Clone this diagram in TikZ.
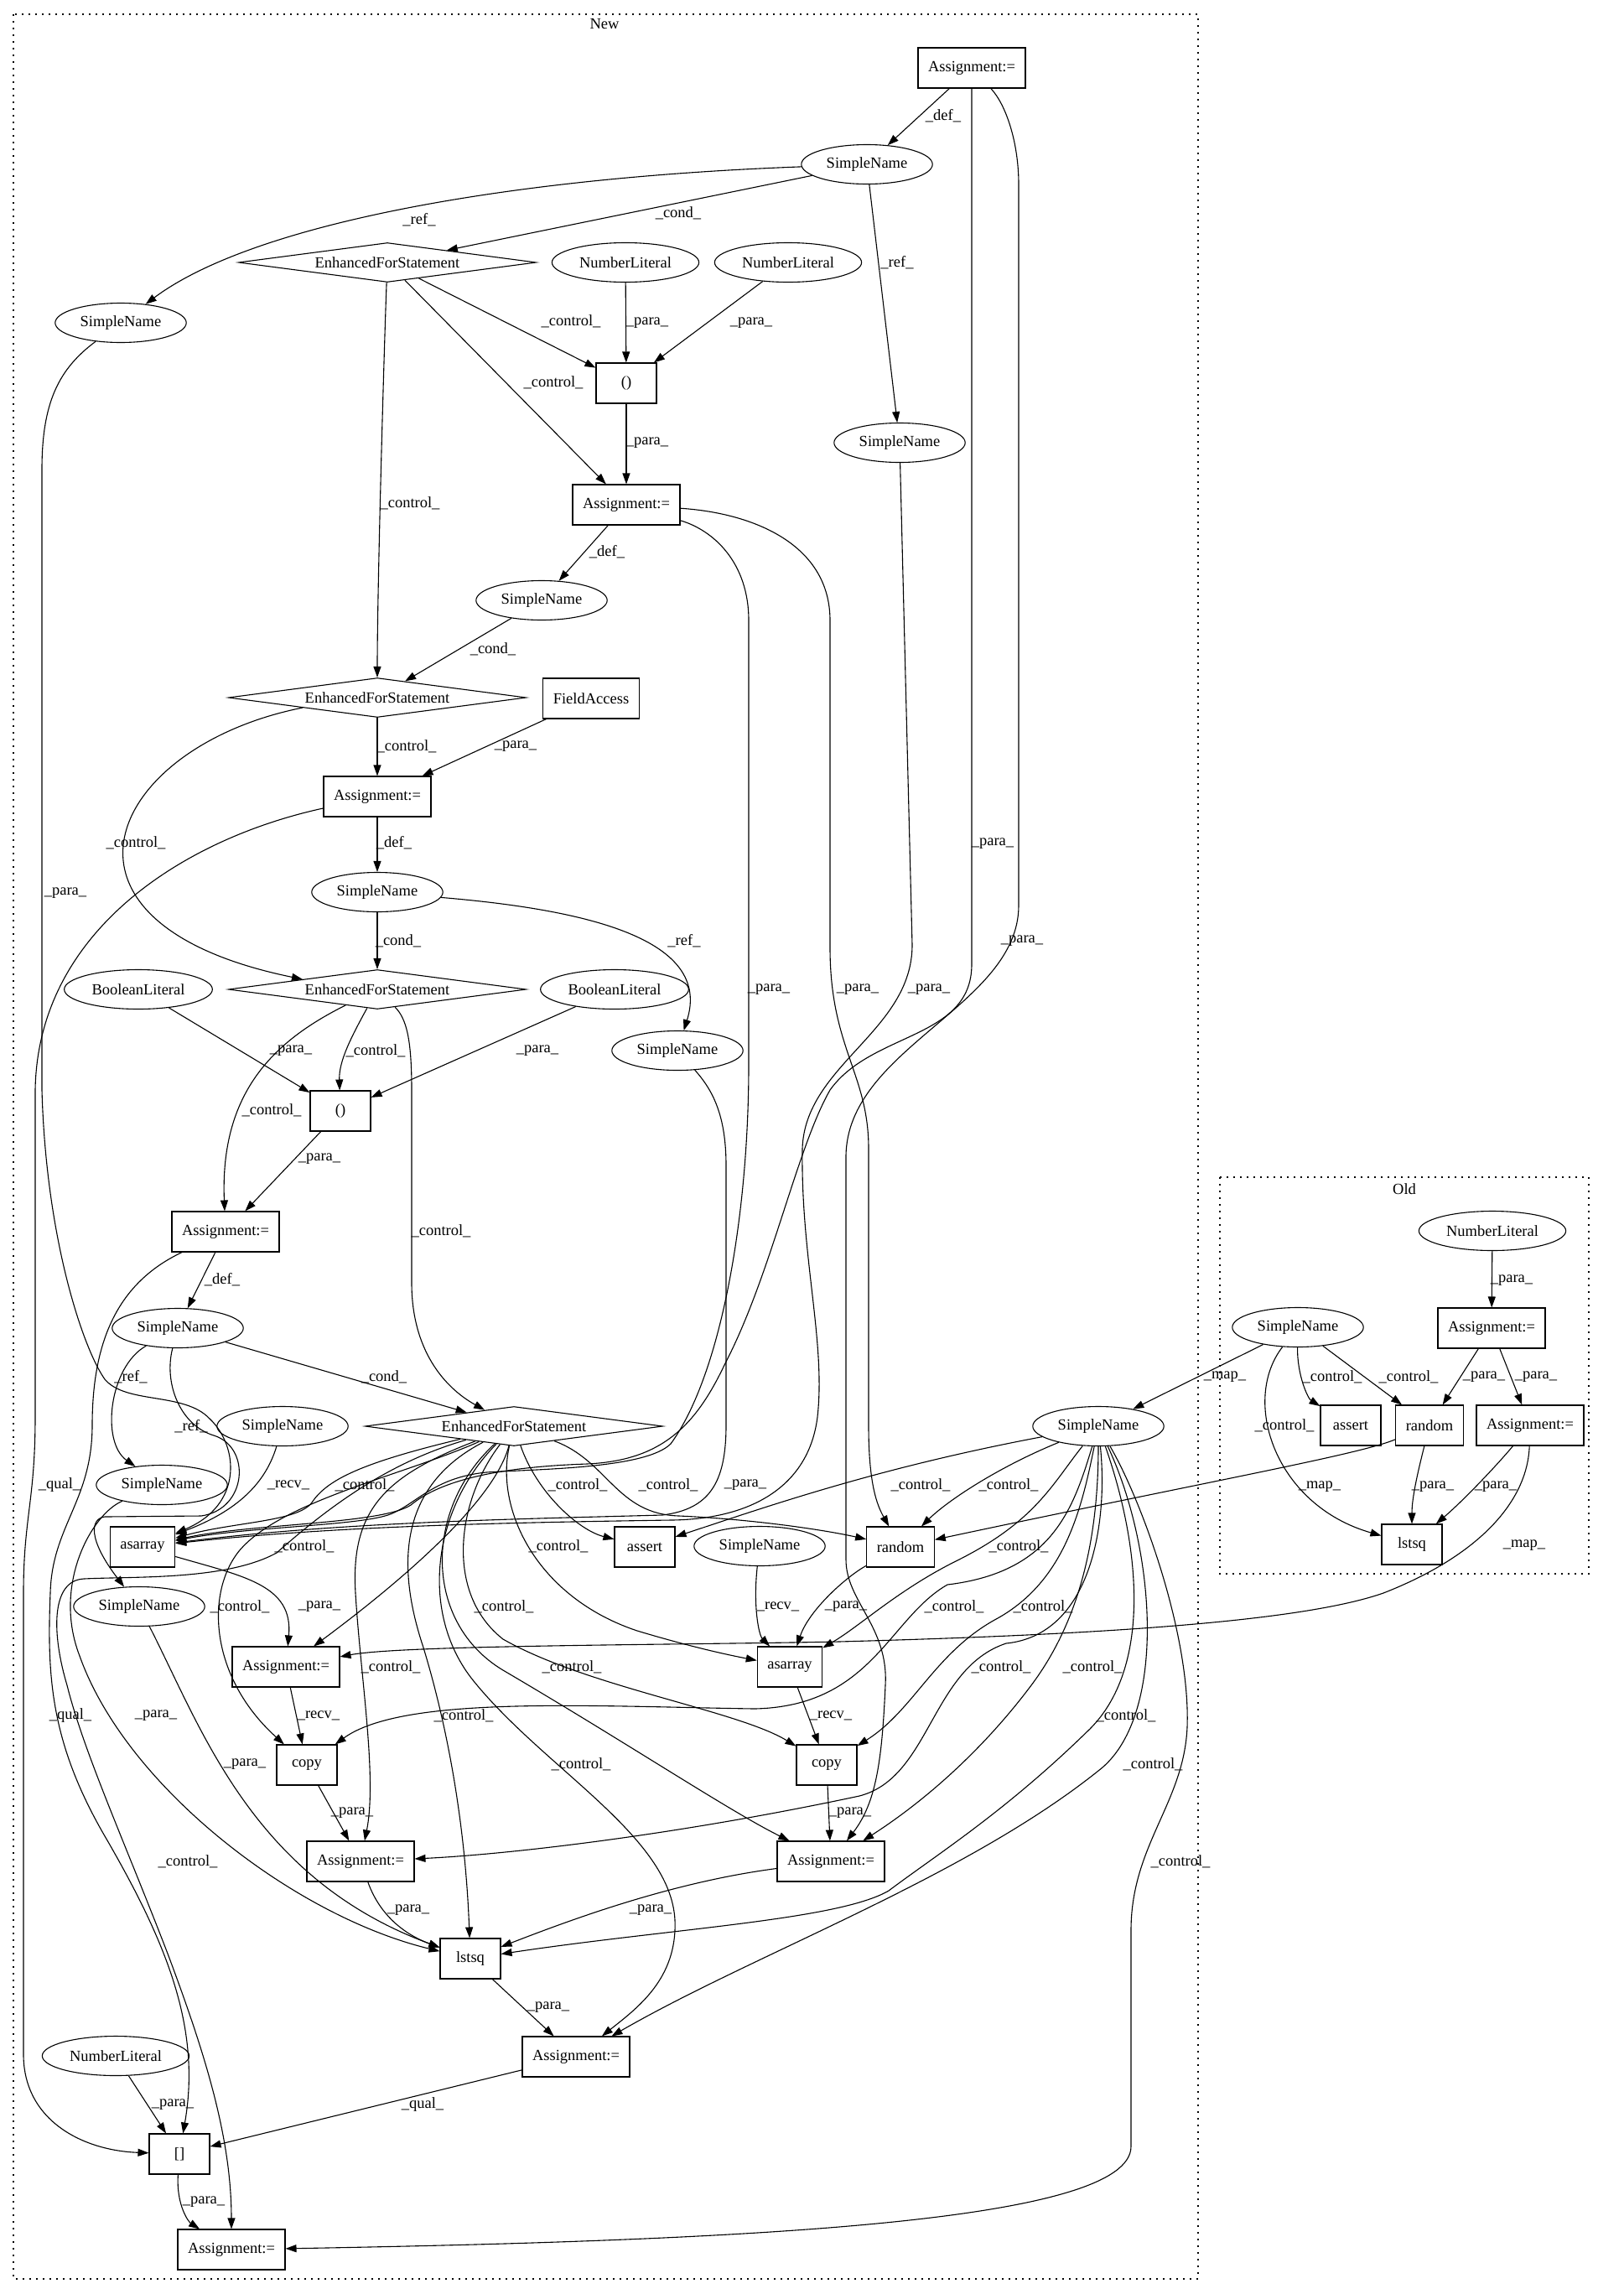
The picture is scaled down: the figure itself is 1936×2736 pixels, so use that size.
\documentclass[tikz,border=0pt]{standalone}
\usepackage{fontspec}
\setmainfont{Liberation Serif}
\usetikzlibrary{shapes.geometric, arrows.meta}
\newcommand{\gvfont}{\fontsize{18.5}{20}\selectfont}
\tikzset{
    stmt/.style={rectangle, draw=black, line width=1.1pt, minimum height=48pt, minimum width=72pt, inner xsep=12pt, font=\gvfont},
    sname/.style={ellipse, draw=black, line width=1.1pt, minimum height=47pt, inner xsep=7pt, font=\gvfont},
    forstmt/.style={diamond, draw=black, line width=1.1pt, aspect=7.5, minimum width=355pt, minimum height=47pt, inner sep=0pt, font=\gvfont},
    flow/.style={line width=1.1pt, -{Triangle[length=13pt, width=9pt]}},
    lbl/.style={font=\gvfont, inner sep=0pt},
    cluster/.style={draw=black, line width=1.3pt, dash pattern=on 2pt off 6pt}
}

\begin{document}
\begin{tikzpicture}[x=1pt, y=-1pt]
    \useasboundingbox (0,0) rectangle (1936,2736);
    \fill[white] (0,0) rectangle (1936,2736);

    \draw[cluster] (16,17) rectangle (1429,2718);
    \draw[cluster] (1455,1404) rectangle (1895,1877);
    \node (newtitle) [lbl] at (721,29) {New};
    \node (oldtitle) [lbl] at (1675,1418) {Old};

    \node (a1) [stmt] at (1159,81) {Assignment:=};
    \node (sn1) [sname] at (1034,196) {SimpleName};
    \node (efs1) [forstmt] at (462,313) {EnhancedForStatement};
    \node (nl1) [sname] at (746,313) {NumberLiteral};
    \node (nl2) [sname] at (940,313) {NumberLiteral};
    \node (snL) [sname] at (144,385) {SimpleName};
    \node (tup1) [stmt] at (747,457) {()};
    \node (snR) [sname] at (1073,528) {SimpleName};
    \node (a2) [stmt] at (747,602) {Assignment:=};
    \node (sn2) [sname] at (646,716) {SimpleName};
    \node (efs2) [forstmt] at (450,832) {EnhancedForStatement};
    \node (fa) [stmt] at (705,833) {FieldAccess};
    \node (a3) [stmt] at (450,950) {Assignment:=};
    \node (sn3) [sname] at (450,1064) {SimpleName};
    \node (efs3) [forstmt] at (450,1180) {EnhancedForStatement};
    \node (bl1) [sname] at (165,1180) {BooleanLiteral};
    \node (bl2) [sname] at (733,1180) {BooleanLiteral};
    \node (sn7) [sname] at (808,1253) {SimpleName};
    \node (tup2) [stmt] at (406,1325) {()};
    \node (a4) [stmt] at (269,1469) {Assignment:=};
    \node (sn4) [sname] at (212,1584) {SimpleName};
    \node (efs4) [forstmt] at (613,1701) {EnhancedForStatement};
    \node (sn5) [sname] at (337,1701) {SimpleName};
    \node (snH) [sname] at (1310,1701) {SimpleName};
    \node (sn6) [sname] at (193,1771) {SimpleName};
    \node (asa1) [stmt] at (170,1845) {asarray};
    \node (ast1) [stmt] at (769,1845) {assert};
    \node (sn9) [sname] at (906,1844) {SimpleName};
    \node (rnd1) [stmt] at (1074,1845) {random};
    \node (sn8) [sname] at (166,1916) {SimpleName};
    \node (a5) [stmt] at (341,1988) {Assignment:=};
    \node (asa2) [stmt] at (942,1988) {asarray};
    \node (cp1) [stmt] at (366,2105) {copy};
    \node (cp2) [stmt] at (986,2105) {copy};
    \node (a6) [stmt] at (430,2220) {Assignment:=};
    \node (a9) [stmt] at (991,2220) {Assignment:=};
    \node (lst) [stmt] at (561,2336) {lstsq};
    \node (a7) [stmt] at (687,2453) {Assignment:=};
    \node (nl3) [sname] at (138,2452) {NumberLiteral};
    \node (br) [stmt] at (214,2569) {[]};
    \node (a8) [stmt] at (276,2683) {Assignment:=};

    \node (onl) [sname] at (1780,1468) {NumberLiteral};
    \node (oa1) [stmt] at (1779,1584) {Assignment:=};
    \node (osn) [sname] at (1548,1583) {SimpleName};
    \node (oast) [stmt] at (1611,1700) {assert};
    \node (ornd) [stmt] at (1705,1700) {random};
    \node (oa2) [stmt] at (1825,1700) {Assignment:=};
    \node (olst) [stmt] at (1684,1842) {lstsq};

    \draw[flow] (a1) -- (sn1) node[lbl] at (1125,138) {\_def\_};
    \draw[flow] (sn1) -- (efs1) node[lbl] at (809,254) {\_cond\_};
    \draw[flow] (sn1) .. controls (600,212) and (300,268) .. (snL) node[lbl] at (500,262) {\_ref\_};
    \draw[flow] (sn1) -- (snR) node[lbl] at (1070,313) {\_ref\_};
    \draw[flow] (efs1) -- (tup1) node[lbl] at (681,383) {\_control\_};
    \draw[flow] (efs1) -- (a2) node[lbl] at (660,456) {\_control\_};
    \draw[flow] (efs1) .. controls (458,420) and (450,700) .. (efs2) node[lbl] at (489,600) {\_control\_};
    \draw[flow] (nl1) -- (tup1) node[lbl] at (772,385) {\_para\_};
    \draw[flow] (nl2) -- (tup1) node[lbl] at (896,385) {\_para\_};
    \draw[flow] (tup1) -- (a2) node[lbl] at (772,528) {\_para\_};
    \draw[flow] (a2) -- (sn2) node[lbl] at (724,658) {\_def\_};
    \draw[flow] (sn2) -- (efs2) node[lbl] at (588,774) {\_cond\_};
    \draw[flow] (efs2) -- (a3) node[lbl] at (485,890) {\_control\_};
    \draw[flow] (fa) -- (a3) node[lbl] at (615,890) {\_para\_};
    \draw[flow] (efs2.south west) .. controls (130,890) and (30,1100) .. (efs3.north west) node[lbl] at (162,1005) {\_control\_};
    \draw[flow] (a3) -- (sn3) node[lbl] at (470,1005) {\_def\_};
    \draw[flow] (a3) .. controls (220,1000) and (45,1110) .. (42,1300) -- (42,1690) .. controls (42,1790) and (28,1810) .. (28,1900) -- (28,2450) .. controls (28,2530) and (100,2565) .. (br) node[lbl] at (71,1771) {\_qual\_};
    \draw[flow] (sn3) -- (efs3) node[lbl] at (475,1122) {\_cond\_};
    \draw[flow] (sn3) .. controls (700,1085) and (850,1120) .. (sn7) node[lbl] at (816,1122) {\_ref\_};
    \draw[flow] (efs3) .. controls (420,1235) and (404,1265) .. (tup2) node[lbl] at (448,1253) {\_control\_};
    \draw[flow] (bl1) -- (tup2) node[lbl] at (347,1253) {\_para\_};
    \draw[flow] (bl2) -- (tup2) node[lbl] at (641,1253) {\_para\_};
    \draw[flow] (efs3) .. controls (330,1240) and (262,1300) .. (a4) node[lbl] at (324,1324) {\_control\_};
    \draw[flow] (tup2) -- (a4) node[lbl] at (381,1382) {\_para\_};
    \draw[flow] (efs3) .. controls (485,1215) and (491,1240) .. (491,1300) -- (491,1530) .. controls (491,1610) and (530,1655) .. (efs4) node[lbl] at (526,1468) {\_control\_};
    \draw[flow] (a4) -- (sn4) node[lbl] at (265,1526) {\_def\_};
    \draw[flow] (sn4) -- (efs4) node[lbl] at (458,1642) {\_cond\_};
    \draw[flow] (a4) .. controls (140,1530) and (110,1600) .. (110,1700) .. controls (110,1790) and (62,1820) .. (60,1900) .. controls (56,2000) and (60,2080) .. (128,2195) .. controls (200,2320) and (240,2420) .. (br) node[lbl] at (84,2046) {\_qual\_};
    \draw[flow] (sn4) .. controls (130,1630) and (120,1720) .. (sn6) node[lbl] at (156,1642) {\_ref\_};
    \draw[flow] (sn4) .. controls (195,1650) and (215,1700) .. (255,1712) .. controls (300,1726) and (295,1800) .. (240,1808) -- (125,1809) .. controls (108,1811) and (104,1835) .. (sn8) node[lbl] at (228,1701) {\_ref\_};
    \draw[flow] (sn5) .. controls (315,1775) and (275,1805) .. (asa1) node[lbl] at (344,1771) {\_recv\_};
    \draw[flow] (snL) .. controls (70,440) and (50,480) .. (50,560) -- (50,1300) .. controls (55,1480) and (100,1610) .. (125,1645) .. controls (150,1675) and (220,1660) .. (250,1692) .. controls (285,1725) and (290,1795) .. (asa1) node[lbl] at (78,1065) {\_para\_};
    \draw[flow] (sn6) .. controls (110,1805) and (62,1890) .. (95,1975) .. controls (150,2130) and (350,2285) .. (lst) node[lbl] at (186,2046) {\_para\_};
    \draw[flow] (sn8) .. controls (240,2060) and (300,2240) .. (lst) node[lbl] at (292,2104) {\_para\_};
    \draw[flow] (asa1) .. controls (290,1880) and (350,1890) .. (a5) node[lbl] at (381,1916) {\_para\_};
    \draw[flow] (a5) -- (cp1) node[lbl] at (380,2046) {\_recv\_};
    \draw[flow] (cp1) -- (a6) node[lbl] at (420,2162) {\_para\_};
    \draw[flow] (a6) .. controls (455,2290) and (490,2310) .. (lst) node[lbl] at (487,2278) {\_para\_};
    \draw[flow] (lst) -- (a7) node[lbl] at (654,2394) {\_para\_};
    \draw[flow] (a7) -- (br) node[lbl] at (504,2510) {\_qual\_};
    \draw[flow] (nl3) -- (br) node[lbl] at (206,2510) {\_para\_};
    \draw[flow] (br) .. controls (210,2630) and (225,2650) .. (a8) node[lbl] at (243,2626) {\_para\_};
    \draw[flow] (sn9) .. controls (898,1915) and (905,1950) .. (asa2) node[lbl] at (928,1916) {\_recv\_};
    \draw[flow] (rnd1) .. controls (1010,1880) and (965,1920) .. (asa2) node[lbl] at (1009,1916) {\_para\_};
    \draw[flow] (asa2) -- (cp2) node[lbl] at (991,2046) {\_recv\_};
    \draw[flow] (cp2) -- (a9) node[lbl] at (1014,2162) {\_para\_};
    \draw[flow] (a9) .. controls (800,2245) and (680,2290) .. (lst) node[lbl] at (776,2278) {\_para\_};

    \draw[flow] (a1) -- (1159,1150) .. controls (1159,1240) and (1040,1230) .. (990,1300) .. controls (950,1370) and (920,1520) .. (865,1626) .. controls (830,1700) and (790,1742) .. (700,1746) .. controls (580,1750) and (520,1770) .. (490,1795) .. controls (455,1818) and (300,1817) .. (asa1) node[lbl] at (1184,1006) {\_para\_};
    \draw[flow] (a1) .. controls (1200,125) and (1215,170) .. (1215,220) -- (1215,1080) .. controls (1215,1200) and (1009,1250) .. (1009,1380) -- (1009,1860) .. controls (1009,1910) and (1060,1940) .. (1056,2010) .. controls (1052,2100) and (1045,2150) .. (a9) node[lbl] at (1219,1122) {\_para\_};
    \draw[flow] (a2) .. controls (850,632) and (893,670) .. (893,740) -- (893,1270) .. controls (893,1450) and (860,1640) .. (800,1722) .. controls (770,1752) and (640,1752) .. (580,1756) .. controls (520,1762) and (500,1790) .. (470,1804) .. controls (440,1820) and (300,1820) .. (asa1) node[lbl] at (917,1180) {\_para\_};
    \draw[flow] (a2) .. controls (900,612) and (990,650) .. (990,740) -- (990,1130) .. controls (990,1250) and (1036,1280) .. (1036,1370) -- (1036,1700) .. controls (1036,1770) and (1046,1795) .. (rnd1) node[lbl] at (1023,1180) {\_para\_};
    \draw[flow] (snR) -- (1088,1127) .. controls (1088,1230) and (960,1270) .. (957,1370) .. controls (955,1500) and (985,1600) .. (975,1690) .. controls (965,1770) and (900,1812) .. (800,1813) .. controls (600,1816) and (400,1820) .. (asa1) node[lbl] at (1108,1180) {\_para\_};
    \draw[flow] (sn7) .. controls (850,1300) and (866,1330) .. (866,1390) -- (866,1700) .. controls (866,1770) and (845,1800) .. (790,1807) .. controls (600,1812) and (400,1816) .. (asa1) node[lbl] at (889,1771) {\_para\_};

    \draw[flow] (efs4) .. controls (430,1745) and (390,1765) .. (372,1792) .. controls (355,1815) and (280,1815) .. (asa1) node[lbl] at (435,1771) {\_control\_};
    \draw[flow] (efs4) .. controls (640,1780) and (690,1825) .. (ast1) node[lbl] at (689,1771) {\_control\_};
    \draw[flow] (efs4) .. controls (725,1742) and (735,1806) .. (810,1808) .. controls (900,1812) and (985,1825) .. (rnd1) node[lbl] at (797,1771) {\_control\_};
    \draw[flow] (efs4) .. controls (590,1800) and (640,1905) .. (760,1945) .. controls (830,1966) and (875,1975) .. (asa2) node[lbl] at (666,1844) {\_control\_};
    \draw[flow] (efs4) .. controls (590,1790) and (480,1885) .. (a5) node[lbl] at (363,1844) {\_control\_};
    \draw[flow] (efs4) .. controls (480,1760) and (335,1790) .. (285,1850) .. controls (245,1900) and (250,2000) .. (cp1) node[lbl] at (286,1916) {\_control\_};
    \draw[flow] (efs4) .. controls (545,1790) and (530,1900) .. (600,1955) .. controls (700,2012) and (880,2040) .. (cp2) node[lbl] at (601,1916) {\_control\_};
    \draw[flow] (efs4) .. controls (460,1760) and (418,1800) .. (424,1900) .. controls (430,2000) and (450,2120) .. (a6) node[lbl] at (466,1988) {\_control\_};
    \draw[flow] (efs4) .. controls (505,1800) and (505,1935) .. (600,1992) .. controls (750,2080) and (870,2160) .. (a9) node[lbl] at (682,1988) {\_control\_};
    \draw[flow] (efs4) .. controls (480,1770) and (470,1860) .. (505,1965) .. controls (540,2080) and (556,2200) .. (lst) node[lbl] at (553,2046) {\_control\_};
    \draw[flow] (efs4) .. controls (515,1800) and (500,1925) .. (565,2005) .. controls (650,2110) and (800,2190) .. (805,2290) .. controls (808,2360) and (760,2395) .. (a7) node[lbl] at (693,2104) {\_control\_};
    \draw[flow] (efs4) .. controls (470,1742) and (400,1790) .. (330,1852) .. controls (270,1885) and (160,1880) .. (100,1883) .. controls (60,1885) and (62,1950) .. (80,2010) .. controls (100,2090) and (150,2200) .. (200,2330) .. controls (245,2450) and (276,2550) .. (a8) node[lbl] at (224,2220) {\_control\_};

    \draw[flow] (snH) .. controls (1050,1750) and (920,1795) .. (ast1) node[lbl] at (1098,1771) {\_control\_};
    \draw[flow] (snH) .. controls (1190,1750) and (1130,1790) .. (rnd1) node[lbl] at (1203,1771) {\_control\_};
    \draw[flow] (snH) .. controls (1255,1770) and (1235,1815) .. (1140,1862) .. controls (1070,1897) and (1025,1940) .. (asa2) node[lbl] at (1215,1844) {\_control\_};
    \draw[flow] (snH) .. controls (1290,1800) and (1270,1885) .. (1190,1930) .. controls (1115,1970) and (1090,2040) .. (cp2) node[lbl] at (1138,1916) {\_control\_};
    \draw[flow] (snH) .. controls (1280,1800) and (1255,1875) .. (1130,1890) .. controls (1060,1930) and (1040,2035) .. (900,2038) .. controls (700,2035) and (480,2022) .. (cp1) node[lbl] at (1194,1988) {\_control\_};
    \draw[flow] (snH) .. controls (1310,1830) and (1290,1930) .. (1230,2010) .. controls (1170,2090) and (1100,2150) .. (a9) node[lbl] at (1244,1916) {\_control\_};
    \draw[flow] (snH) .. controls (1322,1820) and (1300,1950) .. (1200,1960) .. controls (1110,1990) and (1110,2120) .. (1025,2142) .. controls (800,2190) and (600,2212) .. (a6) node[lbl] at (1303,1988) {\_control\_};
    \draw[flow] (snH) .. controls (1362,1850) and (1372,1990) .. (1300,2062) .. controls (1200,2160) and (1120,2210) .. (1060,2255) .. controls (1000,2290) and (800,2300) .. (lst) node[lbl] at (1343,2046) {\_control\_};
    \draw[flow] (snH) .. controls (1380,1850) and (1392,2050) .. (1310,2112) .. controls (1150,2240) and (900,2330) .. (a7) node[lbl] at (1375,2104) {\_control\_};
    \draw[flow] (snH) .. controls (1362,1790) and (1420,1950) .. (1416,2060) .. controls (1412,2150) and (1350,2200) .. (1349,2300) -- (1349,2560) .. controls (1349,2650) and (900,2672) .. (a8) node[lbl] at (1408,2220) {\_control\_};

    \draw[flow] (onl) -- (oa1) node[lbl] at (1803,1527) {\_para\_};
    \draw[flow] (oa1) -- (ornd) node[lbl] at (1770,1642) {\_para\_};
    \draw[flow] (oa1) -- (oa2) node[lbl] at (1832,1642) {\_para\_};
    \draw[flow] (osn) .. controls (1547,1640) and (1560,1668) .. (oast) node[lbl] at (1589,1642) {\_control\_};
    \draw[flow] (osn) -- (ornd) node[lbl] at (1680,1642) {\_control\_};
    \draw[flow] (osn) .. controls (1480,1670) and (1520,1795) .. (olst) node[lbl] at (1532,1700) {\_control\_};
    \draw[flow] (ornd) .. controls (1692,1752) and (1684,1785) .. (olst) node[lbl] at (1709,1773) {\_para\_};
    \draw[flow] (oa2) .. controls (1785,1748) and (1745,1790) .. (olst) node[lbl] at (1784,1773) {\_para\_};

    \draw[flow] (osn) -- (snH) node[lbl] at (1461,1642) {\_map\_};
    \draw[flow] (ornd) .. controls (1620,1735) and (1450,1765) .. (rnd1) node[lbl] at (1574,1773) {\_map\_};
    \draw[flow] (oa2) .. controls (1822,1790) and (1765,1855) .. (1650,1900) .. controls (1550,1935) and (1300,1950) .. (1000,1958) .. controls (800,1962) and (480,1962) .. (a5) node[lbl] at (1818,1843) {\_map\_};
\end{tikzpicture}
\end{document}
